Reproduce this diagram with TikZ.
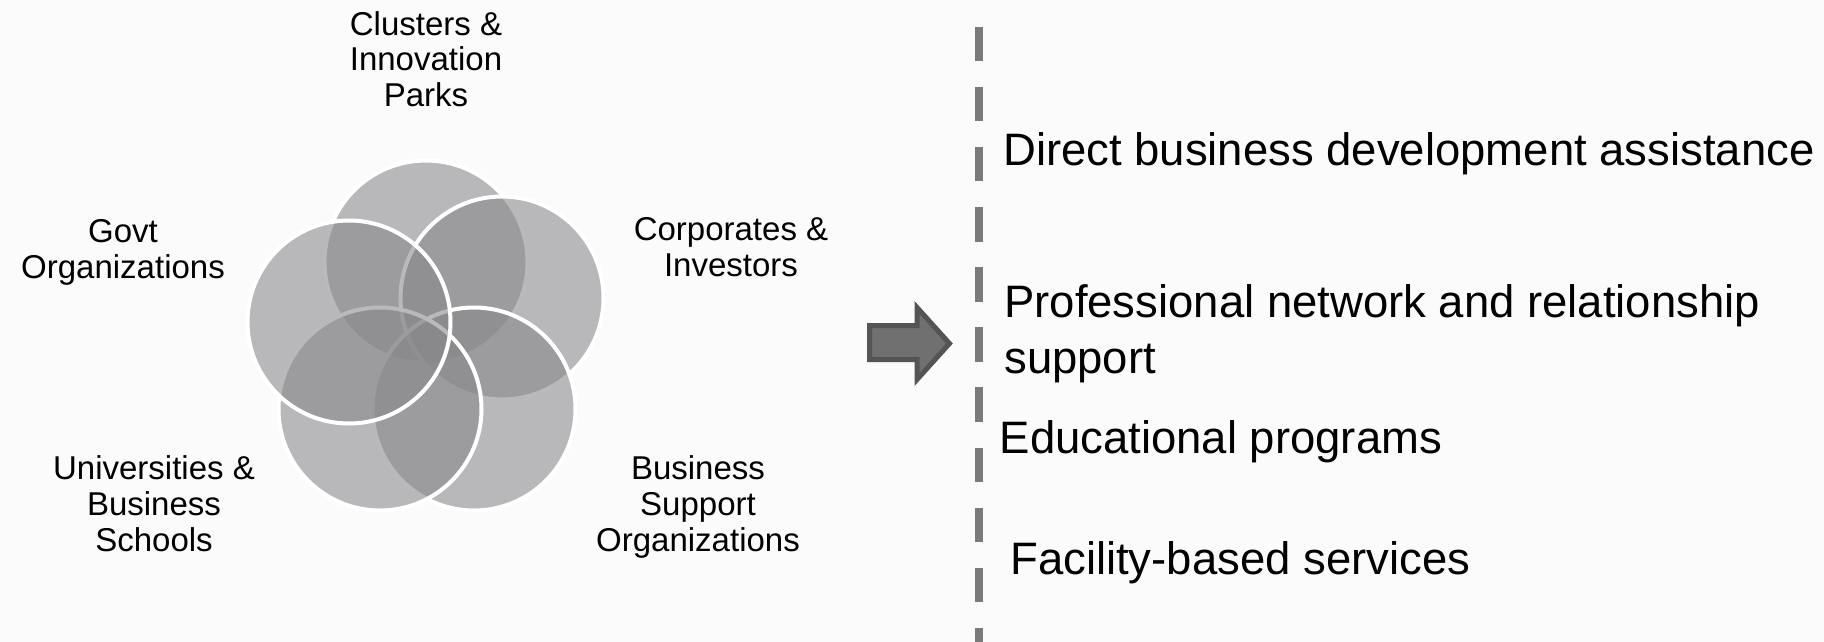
\documentclass[tikz,border=0pt]{standalone}
\usepackage{fontspec}
\setmainfont{Liberation Sans}
\definecolor{bgcol}{RGB}{252,251,252}
\definecolor{ringgray}{RGB}{136,135,139}
\definecolor{dashgray}{RGB}{122,122,122}
\definecolor{arrowfill}{RGB}{112,112,112}
\definecolor{arrowline}{RGB}{84,84,84}
\begin{document}
\begin{tikzpicture}[x=0.75pt,y=-0.75pt,
  ring/.style={circle, fill=ringgray, fill opacity=0.58, draw=white, line width=3pt,
    minimum size=152.25pt, inner sep=0pt, outer sep=0pt},
  lbl/.style={font=\fontsize{24.75}{27}\selectfont, align=center, inner sep=0pt, anchor=base, text=black},
  item/.style={font=\fontsize{34.1}{42}\selectfont, align=left, inner sep=0pt, anchor=base west, text=black},
  divider/.style={draw=dashgray, line width=6.4pt, dash pattern=on 25.9pt off 19.2pt},
  bigarrow/.style={fill=arrowfill, draw=arrowline, line width=3.75pt, line join=miter}
]
\fill[bgcol] (0,0) rectangle (1824,642);
\useasboundingbox (0,0) rectangle (1824,642);

% rings (drawing order gives the interlocking look)
\node[ring] (clusters)  at (426,262) {};
\node[ring] (corporates) at (502,298) {};
\node[ring] (support)   at (474,409) {};
\node[ring] (univ)      at (380,409) {};
\node[ring] (govt)      at (349,322) {};

% labels (anchor = baseline of the last line)
\node[lbl] (lclusters) at (426,107) {Clusters \&\\Innovation\\Parks};
\node[lbl] (lcorp) at (731,276) {Corporates \&\\Investors};
\node[lbl] (lgovt) at (123,278) {Govt\\Organizations};
\node[lbl] (luniv) at (154,551) {Universities \&\\Business\\Schools};
\node[lbl] (lsupport) at (698,551) {Business\\Support\\Organizations};

% arrow
\draw[bigarrow] (869.5,325.5) -- (917,325.5) -- (917,307.5) -- (949.5,343.5)
  -- (917,379.5) -- (917,359.5) -- (869.5,359.5) -- cycle;

% dashed divider
\coordinate (dtop) at (979,26.6);
\coordinate (dbot) at (979,642);
\draw[divider] (dtop) -- (dbot);

% right-hand items
\node[item] (i1) at (1003,165) {Direct business development assistance};
\node[item] (i2) at (1004,373) {Professional network and relationship\\support};
\node[item] (i3) at (999.5,453) {Educational programs};
\node[item] (i4) at (1010,574) {Facility-based services};
\end{tikzpicture}
\end{document}
